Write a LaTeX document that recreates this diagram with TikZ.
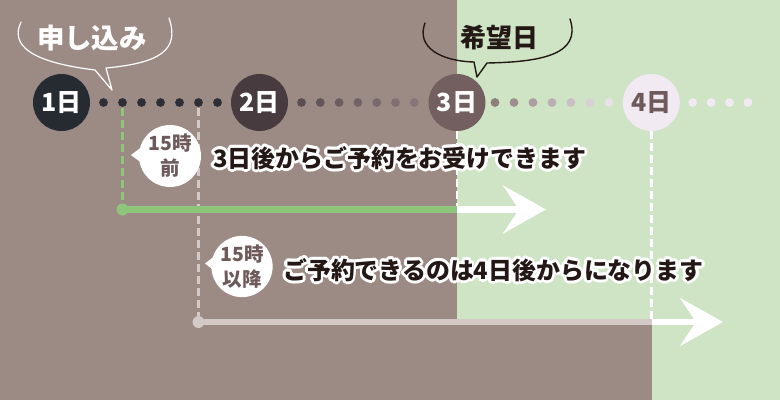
\documentclass[tikz,border=0pt]{standalone}
\usepackage{fontspec}
\newfontfamily\jp{Noto Sans CJK JP}
\usetikzlibrary{arrows.meta,calc}
\definecolor{bgbrown}{HTML}{9C8A85}
\definecolor{bggreen}{HTML}{CFE3C5}
\definecolor{cA}{HTML}{262A31}
\definecolor{cB}{HTML}{473B40}
\definecolor{cC}{HTML}{735F5F}
\definecolor{cD}{HTML}{F2EAF2}
\definecolor{tbrown}{HTML}{6E5A5A}
\definecolor{tdark}{HTML}{231815}
\definecolor{gline}{HTML}{8DC67A}
\definecolor{pline}{HTML}{D3C9C7}
\definecolor{dA}{HTML}{2E2E36}
\definecolor{dB1}{HTML}{5B4F55}
\definecolor{dB2}{HTML}{877679}
\definecolor{dC1}{HTML}{8F7E7D}
\definecolor{dC2}{HTML}{E9E0E9}
% outlined text: white copies around, dark text on top
\newcommand\halonode[3]{%
  \foreach \a in {0,22.5,...,337.5}{\node[msg,text=white] at ([shift={(\a:2.8pt)}]#2) {#3};}
  \node[msg] (#1) at (#2) {#3};}
\begin{document}
\begin{tikzpicture}[x=1pt,y=-1pt,
  day/.style={circle,minimum size=57pt,inner sep=0pt,font=\jp\bfseries\fontsize{25}{25}\selectfont},
  msg/.style={anchor=west,inner sep=0pt,text=tdark,font=\jp\bfseries\fontsize{23.9}{23.9}\selectfont},
  callout/.style={inner sep=0pt},
  badge/.style={circle,fill=white,minimum size=62pt,inner sep=0pt,align=center,text=tbrown,font=\jp\bfseries\fontsize{19.5}{25}\selectfont},
  vdash/.style={line width=2.5pt,dash pattern=on 8pt off 4pt},
  bigarrow/.style={white,line width=6.5pt,-{Stealth[length=43pt,width=48pt,inset=16pt]}}
]
\useasboundingbox (0,0) rectangle (780,400);
% backgrounds
\fill[bgbrown] (0,0) rectangle (457,400);
\fill[bggreen] (457,0) rectangle (780,319.5);
\fill[bggreen] (652,319.5) rectangle (780,400);
\fill[bgbrown] (457,319.5) rectangle (652,400);

% dots
\foreach \i in {0,...,6}{\fill[dA] (103.5+19*\i,102.5) circle (4.4);}
\foreach \i in {0,...,6}{\pgfmathsetmacro\p{100-\i*100/6}\fill[dB1!\p!dB2] (301.5+18.8*\i,102.5) circle (4.4);}
\foreach \i in {0,...,6}{\pgfmathsetmacro\p{100-\i*100/6}\fill[dC1!\p!dC2] (495+19*\i,102.5) circle (4.4);}
\foreach \i in {0,...,3}{\fill[cD] (692.7+18.4*\i,102.5) circle (4.4);}

% day circles
\node[day,fill=cA,text=white] (d1) at (61.5,102.5) {1日};
\node[day,fill=cB,text=white] (d2) at (259.5,102.5) {2日};
\node[day,fill=cC,text=white] (d3) at (457,102.5) {3日};
\node[day,fill=cD,text=tbrown] (d4) at (651.3,102.5) {4日};

% coordinates
\coordinate (gtop) at (122.5,108);
\coordinate (ptop) at (198.5,108);
\coordinate (ga) at (457,209.5);
\coordinate (gtip) at (546,209.5);
\coordinate (pa) at (652,322);
\coordinate (ptip) at (723,322);
\node[circle,fill=gline,minimum size=12pt,inner sep=0pt] (gdot) at (122.5,209.5) {};
\node[circle,fill=pline,minimum size=12pt,inner sep=0pt] (pdot) at (198.5,322) {};

% dashed verticals
\draw[vdash,gline] (gtop) -- (gdot);
\draw[vdash,pline] (ptop) -- (pdot);
\draw[vdash,white] (d3.south) -- (ga);
\draw[vdash,white] (d4.south) -- (d4.south |- pa);

% horizontal lines and arrows
\draw[gline,line width=6.5pt] (gdot.center) -- (ga);
\draw[pline,line width=6pt] (pdot.center) -- (pa);
\draw[bigarrow] (ga) -- (gtip);
\draw[bigarrow,line width=6pt] (pa) -- (ptip);

% callouts
\node[callout,text=white,font=\jp\bfseries\fontsize{27.5}{27.5}\selectfont] (t1) at (92,38) {申し込み};
\draw[white,line width=1.2pt,line cap=round,line join=round]
  (21,22) .. controls (10,45) and (30,62) .. (95,70) -- (112,90) -- (106,68)
  .. controls (160,63) and (180,50) .. (169,18);
\node[callout,text=tdark,font=\jp\bfseries\fontsize{26}{26}\selectfont] (t2) at (499,38) {希望日};
\draw[tdark,line width=1.4pt,line cap=round,line join=round]
  (425,23) .. controls (416,47) and (440,61) .. (474,62) -- (477,77) -- (487,63)
  .. controls (540,62) and (582,55) .. (570,19);

% badges
\fill[white] (131,155) -- (143,146) -- (143,164) -- cycle;
\node[badge] (b1) at (170,156) {15時\\前};
\fill[white] (205,263.5) -- (216,255) -- (216,272) -- cycle;
\node[badge,minimum size=60pt] (b2) at (242,266.5) {15時\\以降};

% messages
\halonode{m1}{213,158}{3日後からご予約をお受けできます}
\halonode{m2}{283,270}{ご予約できるのは4日後からになります}
\end{tikzpicture}
\end{document}
